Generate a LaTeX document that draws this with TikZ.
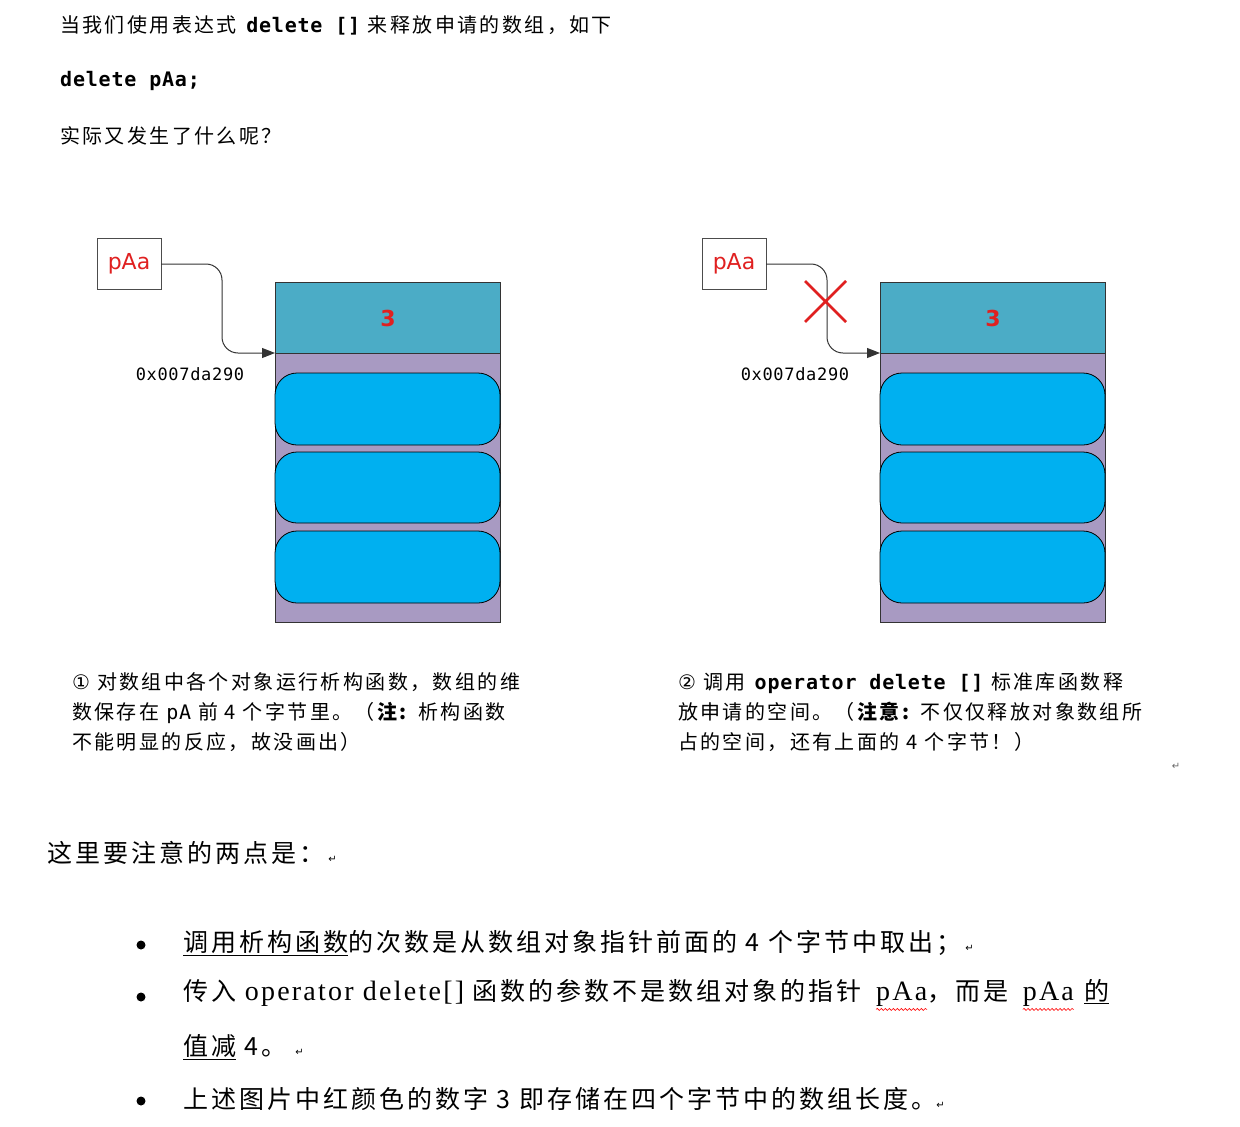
\documentclass[tikz,border=0pt]{standalone}
\usepackage{fontspec}
\setmainfont{Noto Sans CJK SC}
\setmonofont{DejaVu Sans Mono}
\newfontfamily\cjk[LetterSpace=12]{Noto Sans CJK SC}
\newfontfamily\dv{DejaVu Sans}
\newfontfamily\lser[LetterSpace=8]{Liberation Serif}
\newfontfamily\lmono[LetterSpace=4]{DejaVu Sans Mono}
\usetikzlibrary{arrows.meta,decorations.pathmorphing}
\definecolor{teal1}{HTML}{4BACC6}
\definecolor{purp}{HTML}{A89AC2}
\definecolor{cyan1}{HTML}{00B0F0}
\definecolor{redt}{HTML}{E02020}
\newcommand\rw[1]{\tikz[baseline=(w.base)]{\node[inner sep=0pt,outer sep=0pt,anchor=base] (w) {#1}; \draw[red,line width=0.6pt,decorate,decoration={snake,amplitude=1pt,segment length=4pt}] ([yshift=-3pt]w.south west) -- ([yshift=-3pt]w.south east);}}
\tikzset{
 ptr/.style={draw=black!70,fill=white,minimum width=64pt,minimum height=51pt,inner sep=0pt,font=\fontsize{22}{24}\selectfont\dv,text=redt},
 outer/.style={draw=black!80,fill=purp,line width=0.8pt},
 head/.style={draw=black!80,fill=teal1,line width=0.8pt},
 obj/.style={draw=black,fill=cyan1,rounded corners=22pt,line width=0.8pt},
 conn/.style={draw=black!80,line width=1pt,rounded corners=16pt,-{Triangle[length=13pt,width=10pt]}},
 addr/.style={font=\fontsize{17}{19}\selectfont\lmono},
 captxt/.style={anchor=west,font=\fontsize{20}{22}\selectfont\cjk,inner sep=0pt},
 capblk/.style={anchor=north west,align=left,font=\fontsize{20}{30}\selectfont\cjk,inner sep=0pt},
 big/.style={anchor=west,font=\fontsize{25}{28}\selectfont\cjk,inner sep=0pt},
 ret/.style={font=\fontsize{10}{10}\selectfont\dv,text=black!60,inner sep=0pt}
}
\begin{document}
\begin{tikzpicture}[x=1pt,y=-1pt]
\useasboundingbox[fill=white] (0,0) rectangle (1240,1127);
\node[captxt] (t1) at (60,25) {当我们使用表达式 \textbf{\lmono delete []} 来释放申请的数组，如下};
\node[captxt] (t2) at (60,81) {\textbf{\lmono delete pAa;}};
\node[captxt] (t3) at (60,136) {实际又发生了什么呢？};
\foreach \dx/\s in {0/L,605/R}{
 \begin{scope}[xshift=\dx]
 \node[ptr] (p\s) at (129,264) {pAa};
 \draw[outer] (275,282) rectangle (500,622);
 \draw[head] (275,282) rectangle (500,353);
 \node[font=\fontsize{22}{24}\selectfont\dv\bfseries,text=redt] (n\s) at (388,318) {3};
 \coordinate (e\s) at (275,353);
 \draw[obj] (275,373) rectangle (500,445);
 \draw[obj] (275,452) rectangle (500,523);
 \draw[obj] (275,531) rectangle (500,603);
 \node[addr] (a\s) at (190,374) {0x007da290};
 \draw[conn] (p\s.east) -| (222,353) -- (e\s);
 \end{scope}
}
\draw[redt,line width=2.5pt] (805,281) -- (846,322) (846,281) -- (805,322);
\node[capblk] (c1) at (72,672) {{\dv①} 对数组中各个对象运行析构函数，数组的维\\数保存在 {\lmono pA} 前 4 个字节里。（\textbf{注:} 析构函数\\不能明显的反应，故没画出）};
\node[capblk] (c2) at (678,672) {{\dv②} 调用 \textbf{\lmono operator delete []} 标准库函数释\\放申请的空间。（\textbf{注意:} 不仅仅释放对象数组所\\占的空间，还有上面的 4 个字节！）};
\node[ret] (r0) at (1176,766) {↵};
\node[big] (h) at (47,853) {这里要注意的两点是：\,{\fontsize{10}{10}\selectfont\dv ↵}};
\foreach \y in {945,997,1101}{\fill (141,\y) circle (4.5pt);}
\node[big] (b1) at (183,943) {\underline{调用析构函数}的次数是从数组对象指针前面的 4 个字节中取出；\,{\fontsize{10}{10}\selectfont\dv ↵}};
\node[big] (b2) at (183,995) {传入 {\fontsize{28}{28}\selectfont\lser operator delete[]} 函数的参数不是数组对象的指针\hspace{14pt}{\fontsize{28}{28}\selectfont\lser\rw{pAa}}，而是\hspace{14pt}{\fontsize{28}{28}\selectfont\lser\rw{pAa}}\hspace{10pt}\underline{的}};
\node[big] (b3) at (183,1047) {\underline{值减} 4。 {\fontsize{10}{10}\selectfont\dv ↵}};
\node[big] (b4) at (183,1099) {上述图片中红颜色的数字 3 即存储在四个字节中的数组长度。{\fontsize{10}{10}\selectfont\dv ↵}};
\end{tikzpicture}
\end{document}
